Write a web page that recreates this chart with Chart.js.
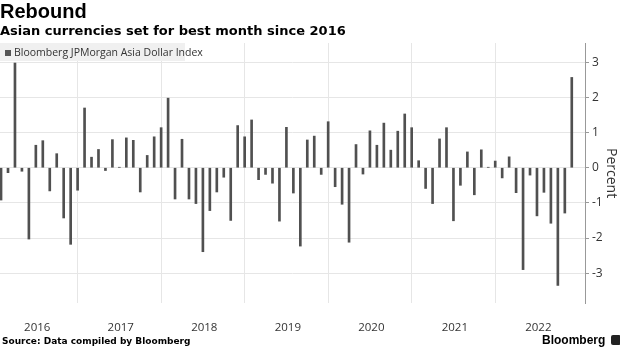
<!DOCTYPE html>
<html>
<head>
<meta charset="utf-8">
<script src="https://cdn.jsdelivr.net/npm/chart.js@4/dist/chart.umd.min.js"></script>
<style>
  body { margin: 0; background: #fff; }
  #wrap { position: relative; width: 620px; height: 348px; overflow: hidden; }
  #chart { position: absolute; left: 0; top: 0; }
  .title { position: absolute; left: 0; top: 0; font: bold 20px "Liberation Sans", sans-serif; color: #000; }
  .subtitle { position: absolute; left: 0; top: 23px; font: bold 13px "DejaVu Sans", sans-serif; color: #000; }
  .legend { position: absolute; left: 0; top: 43px; width: 185px; height: 18px; background: #f0f0f0;
            font: 10.5px "Open Sans", sans-serif; color: #333; line-height: 18px; white-space: nowrap; }
  .legend i { display: inline-block; width: 6px; height: 6px; background: #555; margin: 0 3px 0 5px; }
  .percent { position: absolute; left: 603px; top: 148px; writing-mode: vertical-rl;
             font: 14px "Open Sans", sans-serif; color: #333; }
  .source { position: absolute; left: 2px; top: 336px; font: bold 9px "DejaVu Sans", sans-serif; color: #000; }
  .logo { position: absolute; left: 542px; top: 333px; font: bold 12px "Liberation Sans", sans-serif; color: #000; white-space: nowrap; }
  .logo b { display: inline-block; width: 10px; height: 10px; background: #222; border-radius: 2px;
            margin-left: 6px; vertical-align: -1px; }
</style>
</head>
<body>
<div id="wrap">
  <canvas id="chart" width="620" height="348"></canvas>
  <div class="title">Rebound</div>
  <div class="subtitle">Asian currencies set for best month since 2016</div>
  <div class="legend"><i></i>Bloomberg JPMorgan Asia Dollar Index</div>
  <div class="percent">Percent</div>
  <div class="source">Source: Data compiled by Bloomberg</div>
  <div class="logo">Bloomberg<b></b></div>
</div>
<script>
// monthly change, Jan 2016 .. Nov 2022
var years = ['2016', '2017', '2018', '2019', '2020', '2021', '2022'];
var monthly = [
  -0.92, -0.14, 2.98, -0.10, -2.03, 0.64, 0.77, -0.66, 0.40, -1.43, -2.18, -0.64,
  1.70, 0.30, 0.52, -0.08, 0.80, 0.01, 0.85, 0.78, -0.69, 0.35, 0.88, 1.14,
  1.98, -0.89, 0.81, -0.89, -1.02, -2.39, -1.22, -0.69, -0.27, -1.50, 1.20, 0.88,
  1.36, -0.34, -0.19, -0.44, -1.52, 1.15, -0.72, -2.23, 0.79, 0.90, -0.19, 1.31,
  -0.54, -1.04, -2.12, 0.66, -0.18, 1.05, 0.64, 1.27, 0.50, 1.04, 1.53, 1.14,
  0.20, -0.59, -1.02, 0.82, 1.14, -1.51, -0.50, 0.45, -0.77, 0.51, 0.01, 0.19,
  -0.29, 0.31, -0.71, -2.90, -0.21, -1.37, -0.70, -1.58, -3.35, -1.29, 2.57
];
var yTicks = [-3, -2, -1, 0, 1, 2, 3];

var months = [];
years.forEach(function (y) {
  for (var m = 1; m <= 12; m++) months.push(y + '-' + (m < 10 ? '0' : '') + m);
});
months = months.slice(0, monthly.length);

var points = monthly.map(function (v, i) { return { x: i, y: v }; });
// year boundaries sit on each December bar, labels mid-year
var yearLines = years.slice(1).map(function (y, i) { return { value: 11 + i * 12 }; });
var yearLabels = years.map(function (y, i) { return { value: 5.2 + i * 12 }; });

var ctx = document.getElementById('chart').getContext('2d');
var chart = new Chart(ctx, {
  type: 'bar',
  data: {
    labels: months,
    datasets: [{
      label: 'Bloomberg JPMorgan Asia Dollar Index',
      data: points,
      backgroundColor: '#505050',
      borderWidth: 0,
      barThickness: 2
    }]
  },
  options: {
    responsive: false,
    devicePixelRatio: 1,
    animation: false,
    layout: { padding: { top: 43, left: 0, right: 0, bottom: 15 } },
    plugins: { legend: { display: false }, tooltip: { enabled: false } },
    scales: {
      x: {
        type: 'linear', min: -0.15, max: 83.9, offset: false,
        grid: { color: '#e6e6e6', drawTicks: false, offset: false },
        border: { display: false },
        ticks: { display: false },
        afterBuildTicks: function (s) { s.ticks = yearLines; },
        afterFit: function (s) { s.height = 0; }
      },
      x2: {
        type: 'linear', position: 'bottom', min: -0.15, max: 83.9, offset: false,
        grid: { display: false, offset: false },
        border: { display: false },
        ticks: {
          autoSkip: false, maxRotation: 0, padding: 10,
          color: '#333', font: { family: 'Open Sans', size: 11.5 },
          callback: function (v, i) { return years[i]; }
        },
        afterBuildTicks: function (s) { s.ticks = yearLabels; },
        afterFit: function (s) { s.height = 30; }
      },
      y: {
        position: 'right', min: -3.85, max: 3.55,
        grid: { color: '#e6e6e6', tickColor: '#999', tickLength: 4 },
        border: { display: true, color: '#999' },
        ticks: { padding: 3, color: '#333', font: { family: 'Open Sans', size: 12 } },
        afterBuildTicks: function (s) { s.ticks = yTicks.map(function (v) { return { value: v }; }); },
        afterFit: function (s) { s.width = 35; }
      }
    }
  }
});
</script>
</body>
</html>
